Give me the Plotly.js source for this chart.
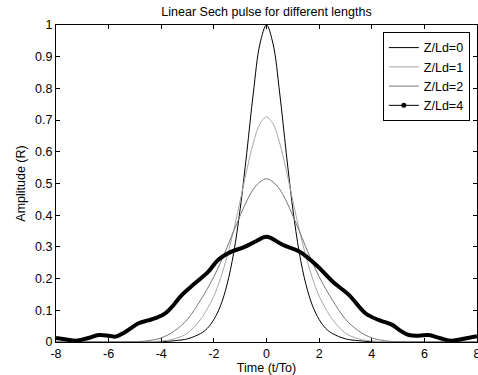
<!DOCTYPE html>
<html>
<head>
<meta charset="utf-8">
<script src="https://cdn.plot.ly/plotly-3.0.1.min.js"></script>
<style>html,body{margin:0;padding:0;background:#fff;}#chart{width:478px;height:375px;}</style>
</head>
<body>
<div id="chart"></div>
<script>
// Thin curves: time samples (t/To) and amplitudes
var tThin = [-8, -7, -6, -5, -4.5, -4, -3.5, -3, -2.5, -2.25, -2, -1.75, -1.5, -1.25, -1, -0.75, -0.5, -0.25, 0,
             0.25, 0.5, 0.75, 1, 1.25, 1.5, 1.75, 2, 2.25, 2.5, 3, 3.5, 4, 4.5, 5, 6, 7, 8];
var z0 = [0, 0, 0, 0, 0, 0.001, 0.004, 0.010, 0.027, 0.043, 0.071, 0.114, 0.181, 0.280, 0.420, 0.597, 0.786, 0.940, 1.0,
          0.940, 0.786, 0.597, 0.420, 0.280, 0.181, 0.114, 0.071, 0.043, 0.027, 0.010, 0.004, 0.001, 0, 0, 0, 0, 0];
var z1 = [0, 0, 0, 0, 0.001, 0.003, 0.010, 0.028, 0.072, 0.105, 0.145, 0.200, 0.269, 0.352, 0.446, 0.542, 0.628, 0.688, 0.710,
          0.688, 0.628, 0.542, 0.446, 0.352, 0.269, 0.200, 0.145, 0.105, 0.072, 0.028, 0.010, 0.003, 0.001, 0, 0, 0, 0];
var z2 = [0, 0, 0, 0.001, 0.004, 0.013, 0.035, 0.072, 0.133, 0.168, 0.206, 0.250, 0.298, 0.350, 0.399, 0.445, 0.482, 0.505, 0.515,
          0.505, 0.482, 0.445, 0.399, 0.350, 0.298, 0.250, 0.206, 0.168, 0.133, 0.072, 0.035, 0.013, 0.004, 0.001, 0, 0, 0];
// Thick curve (Z/Ld=4), with its ripples
var tZ4 = [-8, -7.6, -7.25, -6.8, -6.37, -6.0, -5.74, -5.4, -4.86, -4.5, -4.23, -3.85, -3.5, -3.22, -2.72, -2.21, -1.84, -1.33, -0.83, -0.4, 0,
           0.63, 1.26, 1.89, 2.52, 3.14, 3.77, 4.28, 4.78, 5.1, 5.41, 5.8, 6.16, 6.6, 7.04, 7.5, 8];
var z4 = [0.013, 0.008, 0.004, 0.012, 0.022, 0.020, 0.017, 0.030, 0.059, 0.068, 0.075, 0.090, 0.120, 0.148, 0.185, 0.222, 0.259, 0.285, 0.300, 0.318, 0.332,
          0.306, 0.285, 0.243, 0.190, 0.148, 0.090, 0.069, 0.054, 0.035, 0.022, 0.020, 0.022, 0.012, 0.004, 0.010, 0.018];
var seriesNames = ['Z/Ld=0', 'Z/Ld=1', 'Z/Ld=2', 'Z/Ld=4'];
var xTicks = [-8, -6, -4, -2, 0, 2, 4, 6, 8];
var yTicks = [0, 0.1, 0.2, 0.3, 0.4, 0.5, 0.6, 0.7, 0.8, 0.9, 1];

var FONT = 'Liberation Sans, Arial, sans-serif';
var traces = [
  {x: tThin, y: z0, name: seriesNames[0], mode: 'lines', line: {color: '#000000', width: 1, shape: 'spline'}},
  {x: tThin, y: z1, name: seriesNames[1], mode: 'lines', line: {color: '#a8a8a8', width: 1, shape: 'spline'}},
  {x: tThin, y: z2, name: seriesNames[2], mode: 'lines', line: {color: '#777777', width: 1, shape: 'spline'}},
  {x: tZ4, y: z4, name: seriesNames[3], mode: 'lines', showlegend: false, line: {color: '#000000', width: 4, shape: 'spline'}},
  {x: [null], y: [null], name: seriesNames[3], mode: 'lines+markers', line: {color: '#000000', width: 1}, marker: {color: '#000000', size: 5}}
];
var axisCommon = {
  showline: true, linecolor: '#000000', linewidth: 1, mirror: 'allticks',
  ticks: 'inside', ticklen: 4, tickcolor: '#000000', tickwidth: 1,
  showgrid: false, zeroline: false, ticklabeloverflow: 'allow',
  tickfont: {family: FONT, size: 12.5, color: '#000000'}
};
var layout = {
  width: 478, height: 375,
  margin: {l: 56, r: 1, t: 25, b: 33},
  paper_bgcolor: '#ffffff', plot_bgcolor: '#ffffff',
  title: {text: 'Linear Sech pulse for different lengths', font: {family: FONT, size: 12.5, color: '#000000'},
          x: 0.5, xref: 'paper', y: 0.968, yanchor: 'middle'},
  xaxis: Object.assign({}, axisCommon, {range: [-8, 8], tickvals: xTicks, ticktext: xTicks.map(String),
          title: {text: 'Time (t/To)', font: {family: FONT, size: 12.5, color: '#000000'}, standoff: 3}}),
  yaxis: Object.assign({}, axisCommon, {range: [0, 1], tickvals: yTicks, ticktext: yTicks.map(String),
          title: {text: 'Amplitude (R)', font: {family: FONT, size: 12.5, color: '#000000'}, standoff: 6}}),
  showlegend: true,
  legend: {x: 0.983, xanchor: 'right', y: 0.978, yanchor: 'top', bgcolor: '#ffffff', bordercolor: '#000000', borderwidth: 1,
           font: {family: FONT, size: 12.5, color: '#000000'}, tracegroupgap: 0, itemwidth: 30}
};
Plotly.newPlot('chart', traces, layout, {displayModeBar: false, staticPlot: true});
</script>
</body>
</html>
